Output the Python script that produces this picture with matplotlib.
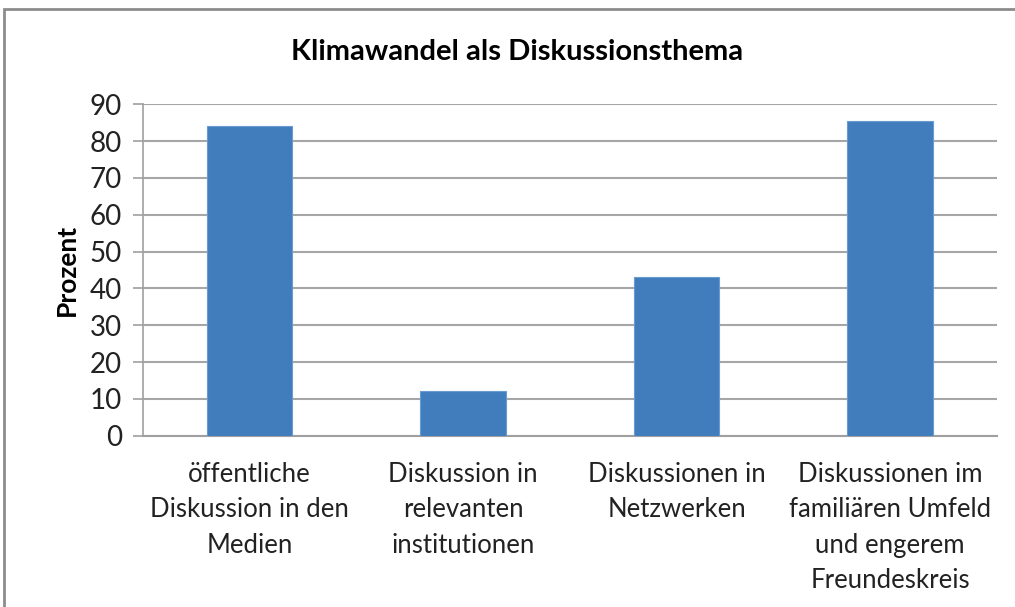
import matplotlib
matplotlib.use("Agg")
import matplotlib.pyplot as plt
from matplotlib.patches import Rectangle

# Werte
categories = [
    "öffentliche\nDiskussion in den\nMedien",
    "Diskussion in\nrelevanten\ninstitutionen",
    "Diskussionen in\nNetzwerken",
    "Diskussionen im\nfamiliären Umfeld\nund engerem\nFreundeskreis",
]
values = [84.0, 12.2, 43.0, 85.4]
y_ticks = [0, 10, 20, 30, 40, 50, 60, 70, 80, 90]

plt.rcParams['font.family'] = ['Lato', 'DejaVu Sans']

fig = plt.figure(figsize=(10.15, 6.07), dpi=100)

# Rahmen des Diagrammbereichs (rechts/unten abgeschnitten)
fig.patches.append(Rectangle((4 / 1015, -0.1), 1.2, (607 - 9) / 607 + 0.1,
                             transform=fig.transFigure, fill=False,
                             edgecolor='#8c8c8c', linewidth=2))

ax = fig.add_axes([142.7 / 1015, (607 - 435.7) / 607,
                   (997 - 142.7) / 1015, (435.7 - 104.3) / 607])

x = range(len(categories))
ax.bar(x, values, width=0.4, color='#417DBD', edgecolor='#6a9bd0', linewidth=0.8, zorder=3)

ax.set_xlim(-0.5, len(categories) - 0.5)
ax.set_ylim(0, 90)
ax.set_yticks(y_ticks)
ax.set_xticks(list(x))
ax.set_xticklabels(categories, fontsize=18.5, color='#222222', linespacing=1.52)
ax.tick_params(axis='y', labelsize=20, colors='#222222', length=7, width=1.2,
               color='#a0a0a0', pad=8)
ax.tick_params(axis='x', length=0, pad=19)
for lbl in ax.get_yticklabels():
    lbl.set_color('#222222')

ax.grid(axis='y', color='#a6a6a6', linewidth=1.5, zorder=0)
for side in ['top', 'right']:
    ax.spines[side].set_visible(False)
ax.spines['left'].set_color('#a0a0a0')
ax.spines['left'].set_linewidth(1.2)
ax.spines['bottom'].set_color('#a0a0a0')
ax.spines['bottom'].set_linewidth(1.5)

ax.set_ylabel('Prozent', fontsize=19, fontweight='bold', labelpad=8)
fig.text(517 / 1015, 1 - 52 / 607, 'Klimawandel als Diskussionsthema',
         ha='center', va='center', fontsize=21, fontweight='bold')

plt.savefig('out.png', dpi=100)
